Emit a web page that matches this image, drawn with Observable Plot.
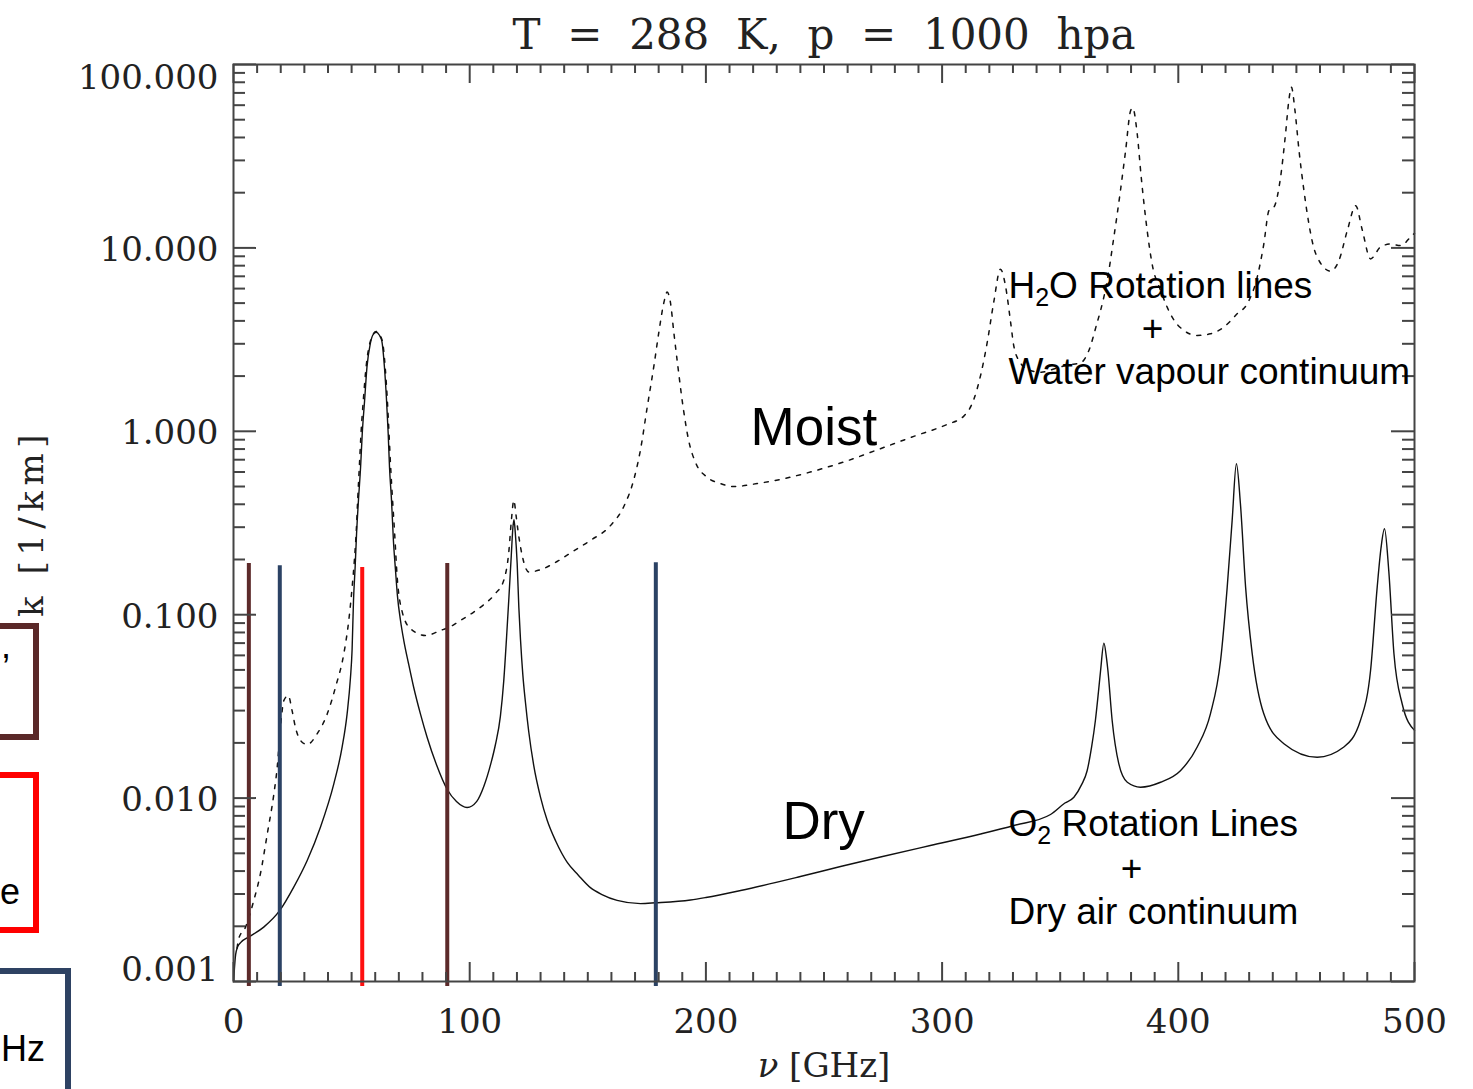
<!DOCTYPE html>
<html><head><meta charset="utf-8">
<script src="https://cdn.jsdelivr.net/npm/d3@7"></script>
<script src="https://cdn.jsdelivr.net/npm/@observablehq/plot@0.6"></script>
<style>
html,body{margin:0;padding:0;background:#fff;}
#wrap{position:relative;width:1473px;height:1089px;overflow:hidden;background:#fff;}
#chart{position:absolute;left:0;top:0;}
.box{position:absolute;box-sizing:border-box;border-style:solid;border-width:6px;}
.frag{position:absolute;font-family:"Liberation Sans",Arial,sans-serif;font-size:36px;line-height:36px;color:#000;white-space:nowrap;}
</style></head><body><div id="wrap">
<div id="chart"></div>
<div class="box" style="left:-200px;top:623px;width:239px;height:117px;border-color:#5a2828"></div>
<div class="box" style="left:-200px;top:772px;width:239px;height:161px;border-color:#ff0000"></div>
<div class="box" style="left:-200px;top:968px;width:271px;height:200px;border-color:#2e4263"></div>
<div class="frag" style="left:1px;top:628px;">,</div>
<div class="frag" style="left:0px;top:874px;">e</div>
<div class="frag" style="left:1px;top:1031px;">Hz</div>
</div>
<script>
// ---- data ----
const dryNu = [0.05,0.4,0.9,1.8,3,6.5,12.8,19.6,25.5,31.2,36.8,42.5,46,48.1,49.5,50.2,50.8,51.5,52.1,52.9,53.8,54.5,55.5,56.5,57.9,59,60.4,61.7,62.8,63.9,64.8,65.5,66.05,66.9,67.7,68.6,69.4,70.7,72.1,74.1,76.3,79.2,82,85.9,90.5,94.4,98.9,103,106,109,110.9,113,114.4,115.6,116.6,117.6,118.3,118.75,119.3,120.1,120.8,121.5,122.5,123.6,125,127.1,130,132.8,136.5,141.3,146,151.1,156,162.4,172.3,178.7,193.5,200,214.7,240,257,273.9,295,316.3,330.4,345.9,352,355.8,359,361.4,363.3,364.9,366.2,367.1,368.5,369.6,370.2,372,374.8,378.4,384,392.5,400.9,408,413.6,417.9,420.7,422.8,424.6,426.3,428.5,431.3,436.2,444.7,458.8,470.1,477.1,481.4,484.2,485.8,487.3,489.1,491.3,494.8,500];
const dryK = [0.001,0.00118,0.0014,0.00155,0.00163,0.00175,0.00198,0.00244,0.00327,0.00457,0.00694,0.012,0.019,0.0288,0.045,0.064,0.119,0.182,0.276,0.42,0.637,0.968,1.47,2.24,3.0,3.35,3.47,3.35,3.1,2.24,1.47,0.968,0.637,0.42,0.254,0.174,0.127,0.093,0.0723,0.0542,0.0401,0.0286,0.0214,0.01525,0.01114,0.00958,0.00889,0.0096,0.0116,0.0155,0.0196,0.028,0.0433,0.075,0.124,0.21,0.3,0.33,0.28,0.19,0.11,0.0735,0.047,0.0333,0.023,0.0151,0.0101,0.00757,0.0058,0.00446,0.0038,0.00325,0.00298,0.00277,0.00266,0.002686,0.002782,0.002871,0.003135,0.003737,0.004237,0.004773,0.005515,0.006372,0.007088,0.008137,0.0094,0.0101,0.0118,0.0141,0.019,0.0265,0.038,0.0496,0.07,0.058,0.0496,0.0265,0.0154,0.0122,0.01147,0.0122,0.0141,0.019,0.0288,0.0563,0.141,0.327,0.665,0.403,0.141,0.0612,0.0288,0.0198,0.0167,0.019,0.0265,0.0496,0.141,0.23,0.294,0.174,0.0612,0.0326,0.0234];

const moistNu = [1.5,2.2,5.1,8.6,11.4,14.3,17.1,18.5,19.9,21.3,23.2,24.8,26.2,28.4,31.2,35.4,39.7,43.2,46.7,48.8,50.2,51.2,52.0,52.6,53.3,54.0,55.0,56.2,57.8,60.4,62.9,64.2,65.1,65.8,66.5,67.3,68.2,69.3,71.4,74.9,81.3,87.6,91.9,96.1,101.7,106,110.9,114.4,116.6,117.6,118.7,119.6,120.4,122.2,125,130,137,144.1,151.1,159.6,165.2,169.5,172.3,175.1,178,180.1,182.2,183.6,185,186.4,188.1,190.4,192.8,195.6,200.5,206.2,211.8,221.7,231.6,245.7,259.8,273.9,288,302.1,309.2,313.4,316.3,319.1,321.9,324.7,326.8,329,330.4,333.2,337,342,348,353,358.6,362.1,365.7,367.1,369.9,372.7,375.5,377.7,379.8,380.7,382.6,384.3,386.8,388.9,392.5,397.4,402.3,408,413.6,419.3,424.9,429.2,433.4,436.2,438.4,440.5,443.3,445.4,446.8,447.9,449.4,451.1,453.2,455.3,458.2,464.5,468,471.6,475.1,477.9,481.4,485.6,489.8,494.1,499,500];
const moistK = [0.00152,0.00171,0.00198,0.00277,0.00387,0.00638,0.01055,0.0147,0.0244,0.034,0.0362,0.030,0.0244,0.0206,0.0196,0.0224,0.0288,0.0403,0.0612,0.093,0.14,0.2,0.29,0.43,0.65,0.98,1.5,2.28,3.05,3.5,3.15,2.25,1.5,1.0,0.65,0.43,0.28,0.16,0.104,0.084,0.077,0.082,0.0862,0.093,0.1034,0.1136,0.1305,0.1537,0.223,0.322,0.42,0.35,0.29,0.211,0.171,0.176,0.195,0.223,0.254,0.306,0.388,0.547,0.792,1.34,2.28,3.48,5.03,5.74,5.03,3.48,2.28,1.34,0.88,0.676,0.562,0.519,0.5,0.519,0.547,0.607,0.69,0.804,0.938,1.09,1.21,1.49,2.02,3.05,5.09,7.66,6.25,3.94,2.9,2.36,2.15,2.1,2.2,2.3,2.36,2.75,3.94,4.56,6.64,11.4,20.5,34,56,58,41.9,24.3,12.5,8.19,5.86,4.19,3.55,3.33,3.4,3.7,4.37,4.96,6.92,10.5,16,16.7,24.3,41.9,63.7,75.2,56,34,20.5,13.5,9.29,7.47,8.53,12.5,17,12.5,8.71,10.1,10.5,10.3,11.7,12];

const channelNu = [6.5,19.6,54.5,90.5,178.8];
const channelTop = [0.19,0.185,0.181,0.19,0.192];
const channelColor = ["#5c2a2a","#2b4264","#ff1010","#5c2a2a","#2b4264"];

const yTickValues = [0.001,0.01,0.1,1,10,100];
const xTickValues = [0,100,200,300,400,500];

const titleText = "T\u00a0\u00a0=\u00a0\u00a0288\u00a0\u00a0K,\u00a0\u00a0p\u00a0\u00a0=\u00a0\u00a01000\u00a0\u00a0hpa";
const xLabel = "ν\u00a0[GHz]";
const yLabel = "k [1/km]";

const bigLabels = [{label:"Moist", nu:218.9, k:0.837},{label:"Dry", nu:232.4, k:0.00602}];
const noteLabels = [
  {label:"H2O Rotation lines", nu:328.1, k:5.30, anchor:"start"},
  {label:"+", nu:389.1, k:3.59, anchor:"middle"},
  {label:"Water vapour continuum", nu:328.1, k:1.80, anchor:"start"},
  {label:"O2 Rotation Lines", nu:328.1, k:0.00625, anchor:"start"},
  {label:"+", nu:380.2, k:0.00408, anchor:"middle"},
  {label:"Dry air continuum", nu:328.1, k:0.00207, anchor:"start"}
];

// ---- tables ----
const dry = dryNu.map((nu,i)=>({nu, k:dryK[i]}));
const moist = moistNu.map((nu,i)=>({nu, k:moistK[i]}));
const channels = channelNu.map((nu,i)=>({nu, top:channelTop[i], color:channelColor[i]}));
const yMinor = [];
for (let e=-3;e<2;e++) for (let m=2;m<=9;m++) yMinor.push(m*Math.pow(10,e));
const xMinor = [];
for (let v=10; v<500; v+=10) if (v%100!==0) xMinor.push(v);

const W=1473,H=1089,mL=233,mR=59,mT=64,mB=108;
const pw=W-mL-mR, ph=H-mT-mB;
const tc="#444";
const serif="'DejaVu Serif', serif";
const sans="'Liberation Sans', Arial, sans-serif";

const chart = Plot.plot({
  width:W, height:H, marginLeft:mL, marginRight:mR, marginTop:mT, marginBottom:mB,
  x:{domain:[0,500]},
  y:{type:"log", domain:[0.001,100]},
  color:{type:"identity"},
  style:{fontFamily:serif, background:"transparent", color:"#222", overflow:"visible"},
  marks:[
    Plot.line(moist,{x:"nu",y:"k",curve:"monotone-x",stroke:"#111",strokeWidth:1.5,strokeDasharray:"4,7"}),
    Plot.line(dry,{x:"nu",y:"k",curve:"monotone-x",stroke:"#111",strokeWidth:1.4}),
    Plot.ruleX(channels,{x:"nu",y1:0.00094,y2:"top",stroke:"color",strokeWidth:4}),
    Plot.tickY(yTickValues,{y:d=>d,insetRight:pw-23,stroke:tc,strokeWidth:2}),
    Plot.tickY(yMinor,{y:d=>d,insetRight:pw-12,stroke:tc,strokeWidth:2}),
    Plot.tickY(yTickValues,{y:d=>d,insetLeft:pw-23,stroke:tc,strokeWidth:2}),
    Plot.tickY(yMinor,{y:d=>d,insetLeft:pw-12,stroke:tc,strokeWidth:2}),
    Plot.tickX(xTickValues,{x:d=>d,insetTop:ph-19,stroke:tc,strokeWidth:2}),
    Plot.tickX(xMinor,{x:d=>d,insetTop:ph-9,stroke:tc,strokeWidth:2}),
    Plot.tickX(xTickValues,{x:d=>d,insetBottom:ph-19,stroke:tc,strokeWidth:2}),
    Plot.tickX(xMinor,{x:d=>d,insetBottom:ph-9,stroke:tc,strokeWidth:2}),
    Plot.frame({stroke:tc,strokeWidth:2}),
    Plot.axisY(yTickValues.slice(1,-1),{anchor:"left",tickSize:0,tickPadding:15,tickFormat:d=>d.toFixed(3),fontSize:34,label:null,dy:2}),
    Plot.axisY([100],{anchor:"left",tickSize:0,tickPadding:15,tickFormat:d=>d.toFixed(3),fontSize:34,label:null,dy:14}),
    Plot.axisY([0.001],{anchor:"left",tickSize:0,tickPadding:15,tickFormat:d=>d.toFixed(3),fontSize:34,label:null,dy:-11}),
    Plot.axisX(xTickValues,{anchor:"bottom",tickSize:0,tickPadding:27,tickFormat:d=>String(d),fontSize:34,label:null}),
    Plot.text([titleText],{text:d=>d,frameAnchor:"top",dy:-16,lineAnchor:"bottom",fontSize:42,fill:"#222",fontFamily:serif}),
    Plot.text([xLabel],{text:d=>d,frameAnchor:"bottom",dy:95,lineAnchor:"bottom",fontSize:34,fill:"#222",fontFamily:serif}),
    Plot.text([yLabel],{text:d=>d,frameAnchor:"left",textAnchor:"middle",dx:-191,rotate:-90,lineAnchor:"bottom",fontSize:34,fill:"#222",fontFamily:serif}),
    Plot.text(bigLabels,{x:"nu",y:"k",text:"label",textAnchor:"start",lineAnchor:"bottom",fontSize:53,fontFamily:sans,fill:"#000"}),
    Plot.text(noteLabels.filter(d=>d.anchor==="start"),{x:"nu",y:"k",text:"label",textAnchor:"start",lineAnchor:"bottom",fontSize:37,fontFamily:sans,fill:"#000"}),
    Plot.text(noteLabels.filter(d=>d.anchor==="middle"),{x:"nu",y:"k",text:"label",textAnchor:"middle",lineAnchor:"middle",fontSize:37,fontFamily:sans,fill:"#000"})
  ]
});
document.getElementById("chart").appendChild(chart);

// subscripts, italic nu, spaced y label
const NS="http://www.w3.org/2000/svg";
chart.querySelectorAll("text").forEach(t=>{
  const s=t.textContent;
  let m = null;
  if (s==="H2O Rotation lines") m=["H","2","O Rotation lines"];
  else if (s==="O2 Rotation Lines") m=["O","2","\u00a0Rotation Lines"];
  if (m) {
    t.textContent="";
    const a=document.createElementNS(NS,"tspan"); a.textContent=m[0]; t.appendChild(a);
    const b=document.createElementNS(NS,"tspan"); b.textContent=m[1]; b.setAttribute("font-size","25"); b.setAttribute("dy","8"); t.appendChild(b);
    const c=document.createElementNS(NS,"tspan"); c.textContent=m[2]; c.setAttribute("dy","-8"); t.appendChild(c);
  }
  if (s===xLabel) {
    t.textContent="";
    const a=document.createElementNS(NS,"tspan"); a.textContent="ν"; a.setAttribute("font-style","italic"); t.appendChild(a);
    const b=document.createElementNS(NS,"tspan"); b.textContent="\u00a0[GHz]"; t.appendChild(b);
  }
  if (s===yLabel) t.style.letterSpacing="5.5px";
});
</script>
</body></html>
